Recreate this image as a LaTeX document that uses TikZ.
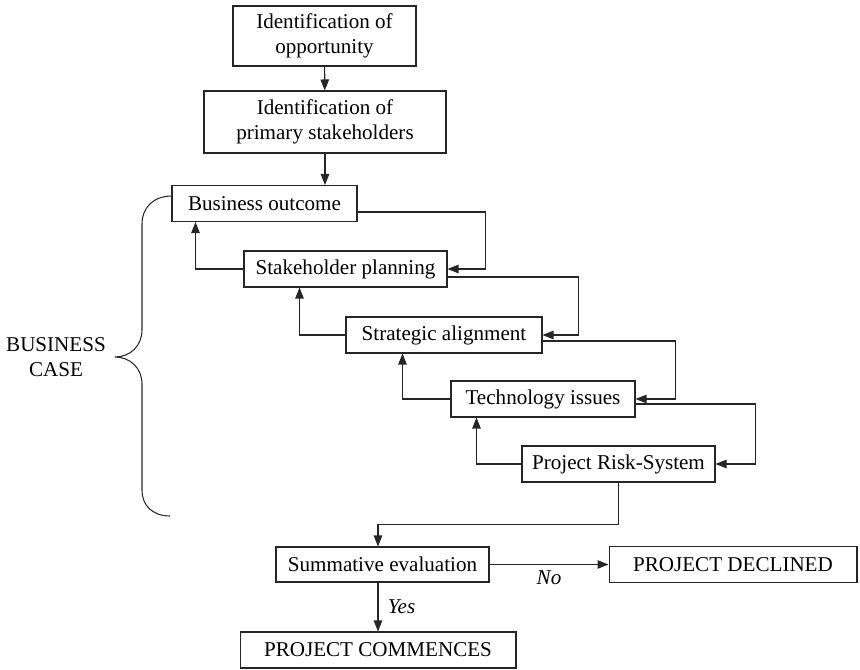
\documentclass[tikz,border=0pt]{standalone}
\usepackage{fontspec}
\setmainfont{Liberation Serif}
\usepackage{tikz}
\usetikzlibrary{positioning,arrows.meta,calc}
\tikzset{
  flow/.style={-{Triangle[length=0.22cm,width=0.17cm]}, line width=0.6pt, draw=black!85},
  every node/.style={anchor=center}
}

\begin{document}
\begin{tikzpicture}[
  x=0.02cm, y=-0.02cm,
  font=\fontsize{12}{14.2}\selectfont,
  procbox/.style={draw=black!85, line width=0.6pt, inner sep=0pt, align=center, minimum height=0.72cm},
  brace/.style={line width=0.6pt, draw=black!85},
  choice/.style={font=\fontsize{12}{14.2}\selectfont\itshape}
]
\useasboundingbox (0,0) rectangle (860,670);

% top vertical chain
\node[procbox, minimum width=3.66cm, minimum height=1.2cm]  (opp)   at (324.5,36)  {Identification of\\opportunity};
\node[procbox, minimum width=4.84cm, minimum height=1.24cm] (stake) at (325,122)   {Identification of\\primary stakeholders};

% business case staircase
\node[procbox, minimum width=3.7cm]  (bus)   at (264.5,203.5) {Business outcome};
\node[procbox, minimum width=4.06cm] (plan)  at (345.5,269)   {Stakeholder planning};
\node[procbox, minimum width=3.92cm] (strat) at (444,335)     {Strategic alignment};
\node[procbox, minimum width=3.68cm] (tech)  at (543,399)     {Technology issues};
\node[procbox, minimum width=3.86cm] (risk)  at (618.5,464)   {Project Risk-System};

% evaluation and outcomes
\node[procbox, minimum width=4.26cm, minimum height=0.7cm] (summ) at (382.5,564.5) {Summative evaluation};
\node[procbox, minimum width=4.96cm] (decl) at (733,564.5) {PROJECT DECLINED};
\node[procbox, minimum width=5.52cm] (comm) at (378,650) {PROJECT COMMENCES};

% brace and its label
\draw[brace] (172,196) .. controls (153,196) and (142,208) .. (142,224) -- (142,330)
  .. controls (142,346) and (130,357) .. (115,357)
  .. controls (130,357) and (142,368) .. (142,384) -- (142,490)
  .. controls (142,506) and (153,516) .. (170,516);
\node[align=center] (case) at (56,357) {BUSINESS\\CASE};

% main arrows
\draw[flow] (opp) -- (stake);
\draw[flow] (stake.south) -- (stake.south |- bus.north);

% forward loops on the right
\draw[flow] ([yshift=-0.17cm]bus.east)   -- ++(128,0) |- (plan.east);
\draw[flow] ([yshift=-0.16cm]plan.east)  -- ++(131,0) |- (strat.east);
\draw[flow] ([yshift=-0.12cm]strat.east) -- ++(133,0) |- (tech.east);
\draw[flow] ([yshift=-0.10cm]tech.east)  -- ++(120,0) |- (risk.east);

% feedback arrows on the left
\draw[flow] (plan.west)  -| ([xshift=0.48cm]bus.south west);
\draw[flow] (strat.west) -| ([xshift=1.12cm]plan.south west);
\draw[flow] (tech.west)  -| ([xshift=1.14cm]strat.south west);
\draw[flow] (risk.west)  -| ([xshift=0.52cm]tech.south west);

% decision
\draw[flow] (risk.south) -- ++(0,42) -| (summ.north -| comm.north);
\draw[flow] (summ) -- node[below, choice] {No} (decl);
\draw[flow] (summ.south -| comm.north) -- node[right, xshift=2pt, choice] {Yes} (comm.north);

\end{tikzpicture}
\end{document}
